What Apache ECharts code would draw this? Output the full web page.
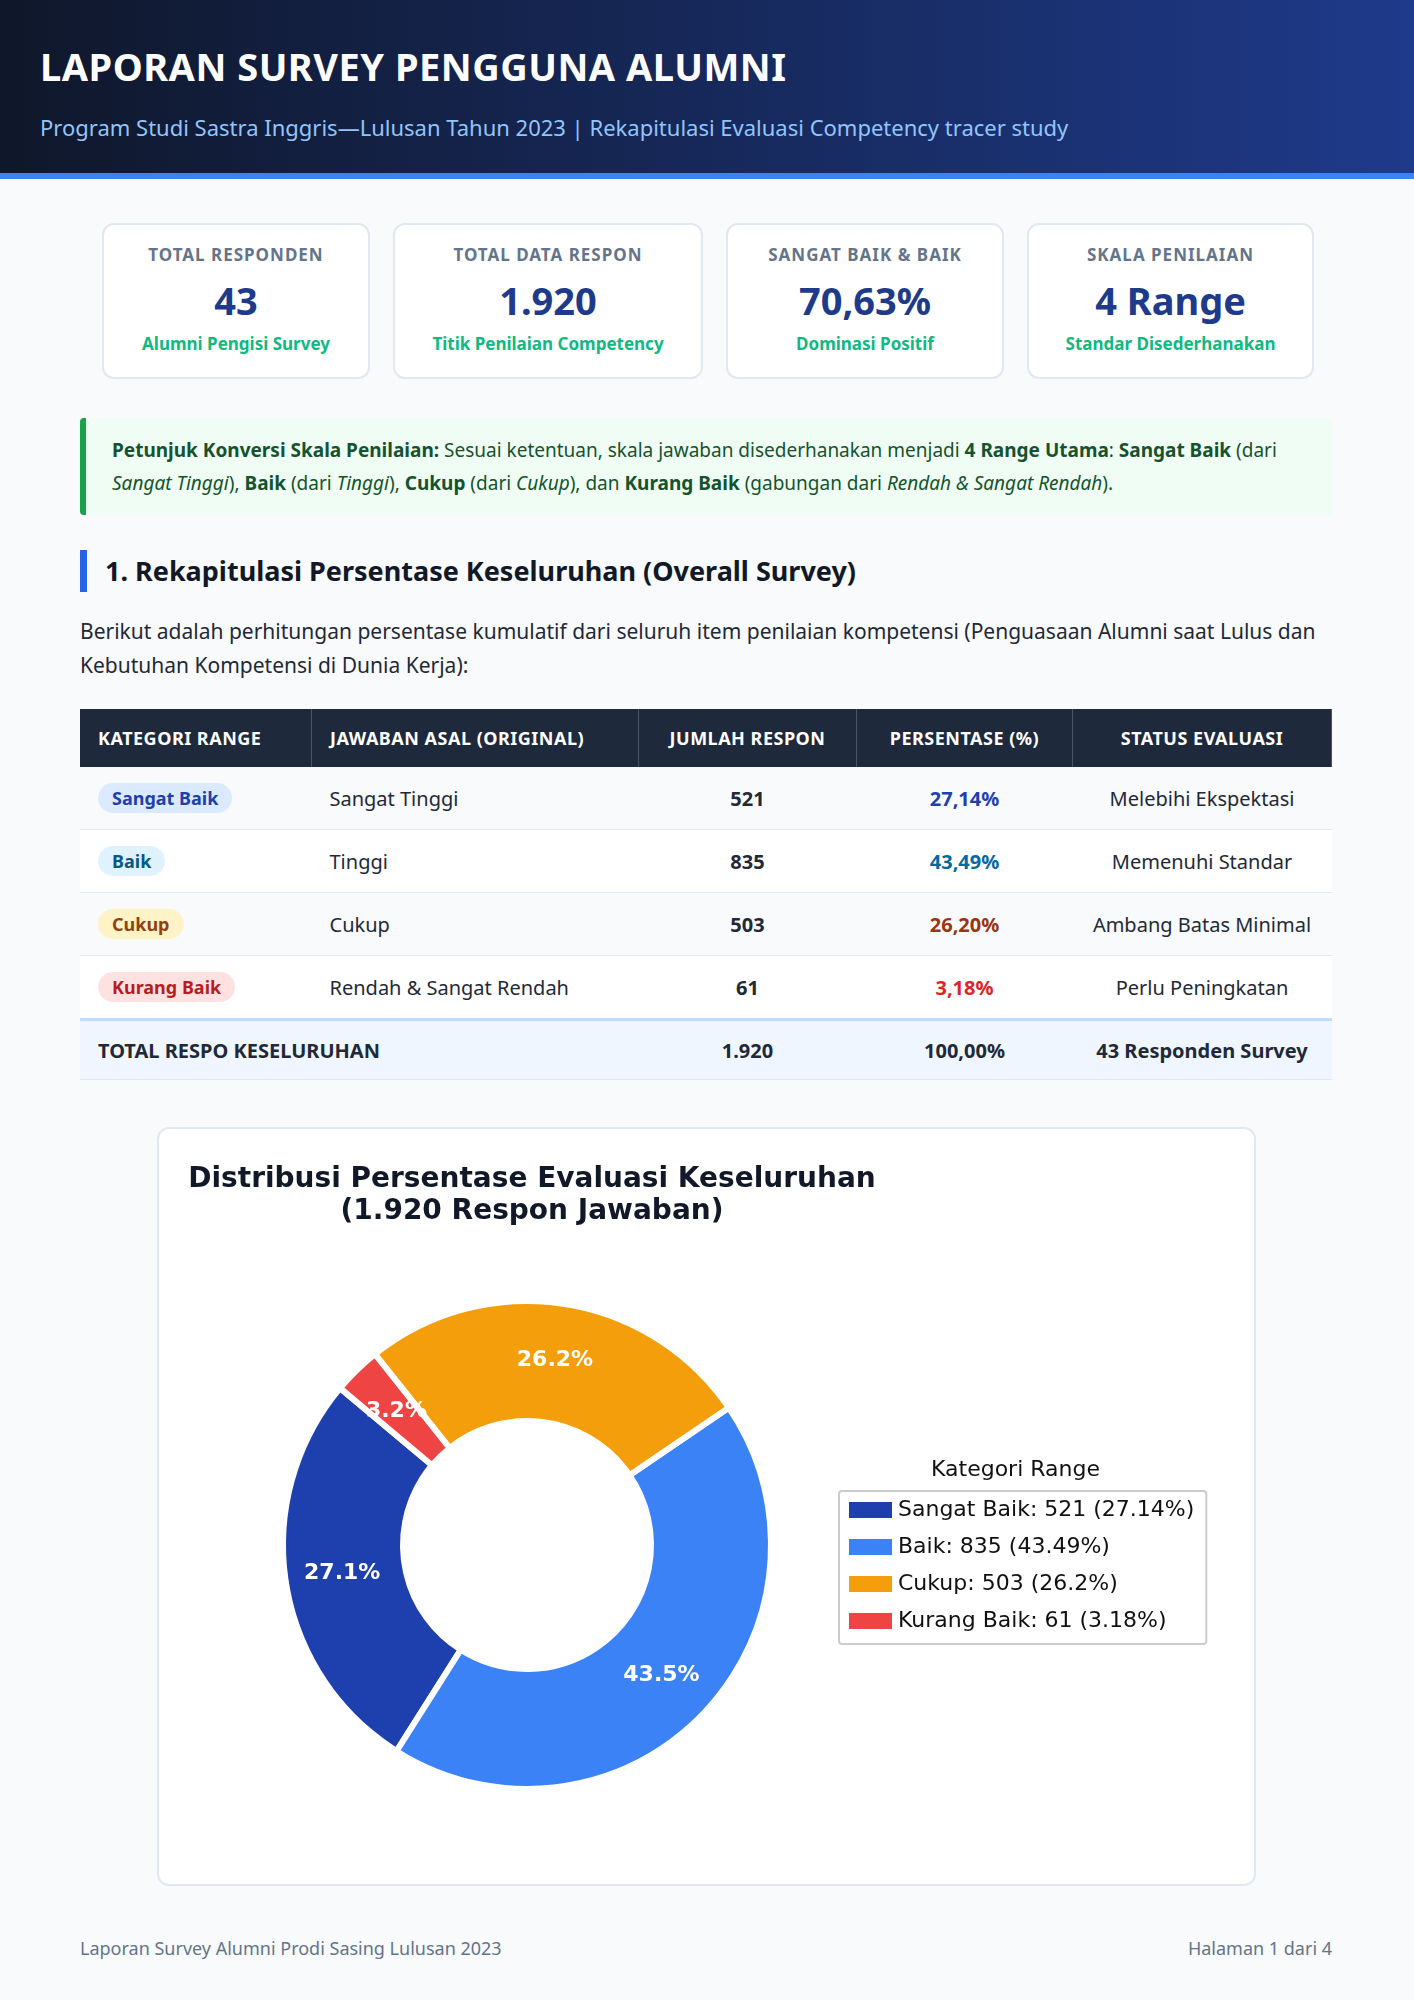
<!DOCTYPE html>
<html><head><meta charset="utf-8">
<script src="https://cdn.jsdelivr.net/npm/echarts@6/dist/echarts.min.js"></script>
<style>
body{margin:0;width:1414px;height:2000px;background:#f8fafc;font-family:"Noto Sans",sans-serif;color:#1f2937;position:relative;overflow:hidden}
.hdr{height:179px;background:linear-gradient(90deg,#0f172a,#1e3a8a);border-bottom:6px solid #3b82f6;box-sizing:border-box;padding:40px 40px 0}
.hdr h1{margin:0;color:#fff;font-size:38px;font-weight:700;letter-spacing:.5px}
.hdr p{margin:20px 0 0;color:#93c5fd;font-size:22px}
.kpis{position:absolute;top:223px;left:102px;display:flex;gap:23px}
.kpi{height:156px;background:#fff;border:2px solid #e2e8f0;border-radius:12px;box-sizing:border-box;text-align:center;padding-top:18px}
.kpi .l{font-size:17px;font-weight:700;color:#64748b;letter-spacing:1px}
.kpi .v{font-size:38px;font-weight:700;color:#1e3a8a;margin:8px 0 6px}
.kpi .s{font-size:17px;font-weight:700;color:#10b981}
.note{position:absolute;top:418px;left:80px;width:1252px;height:97px;box-sizing:border-box;background:#f0fdf4;border-left:6px solid #16a34a;border-radius:4px;padding:16px 26px;font-size:19px;line-height:33px;color:#14532d}
h2{position:absolute;top:550px;left:80px;margin:0;border-left:7px solid #2563eb;padding-left:18px;font-size:27px;line-height:42px;color:#111827}
.para{position:absolute;top:614px;left:80px;width:1260px;font-size:21px;line-height:34px;color:#1f2937;margin:0}
table{position:absolute;top:709px;left:80px;width:1252px;border-collapse:collapse;font-size:20px}
th{background:#1e293b;color:#fff;height:58px;font-size:18px;letter-spacing:.5px;border-right:1px solid #475569;text-align:left;padding:0 18px}
td{height:62px;padding:0 18px;border-bottom:1px solid #e2e8f0;background:#fff}
tr:nth-child(even) td{background:#f8fafc}
.c{text-align:center}
.badge{display:inline-block;padding:3px 14px;border-radius:18px;font-weight:700;font-size:18px}
tr.tot td{background:#eff6ff;font-weight:700;border-top:3px solid #bfdbfe;height:58px}
.card{position:absolute;top:1127px;left:157px;width:1099px;height:759px;background:#fff;border:2px solid #e2e8f0;border-radius:12px;box-sizing:border-box}
#chart{width:1095px;height:755px}
.foot{position:absolute;top:1936px;left:80px;width:1252px;display:flex;justify-content:space-between;font-size:18px;color:#64748b}
</style></head><body>
<div class="hdr"><h1>LAPORAN SURVEY PENGGUNA ALUMNI</h1><p>Program Studi Sastra Inggris—Lulusan Tahun 2023 | Rekapitulasi Evaluasi Competency tracer study</p></div>
<div class="kpis" id="kpis"></div>
<div class="note"><b>Petunjuk Konversi Skala Penilaian:</b> Sesuai ketentuan, skala jawaban disederhanakan menjadi <b>4 Range Utama</b>: <b>Sangat Baik</b> (dari <i>Sangat Tinggi</i>), <b>Baik</b> (dari <i>Tinggi</i>), <b>Cukup</b> (dari <i>Cukup</i>), dan <b>Kurang Baik</b> (gabungan dari <i>Rendah &amp; Sangat Rendah</i>).</div>
<h2>1. Rekapitulasi Persentase Keseluruhan (Overall Survey)</h2>
<p class="para">Berikut adalah perhitungan persentase kumulatif dari seluruh item penilaian kompetensi (Penguasaan Alumni saat Lulus dan Kebutuhan Kompetensi di Dunia Kerja):</p>
<table id="tbl"></table>
<div class="card"><div id="chart"></div></div>
<div class="foot"><span>Laporan Survey Alumni Prodi Sasing Lulusan 2023</span><span>Halaman 1 dari 4</span></div>
<script>
var kpiLabels = ['TOTAL RESPONDEN', 'TOTAL DATA RESPON', 'SANGAT BAIK & BAIK', 'SKALA PENILAIAN'];
var kpiValues = ['43', '1.920', '70,63%', '4 Range'];
var kpiSubs = ['Alumni Pengisi Survey', 'Titik Penilaian Competency', 'Dominasi Positif', 'Standar Disederhanakan'];
var kpiWidths = [268, 310, 278, 287];

var categories = ['Sangat Baik', 'Baik', 'Cukup', 'Kurang Baik'];
var originals = ['Sangat Tinggi', 'Tinggi', 'Cukup', 'Rendah & Sangat Rendah'];
var counts = [521, 835, 503, 61];
var percents = [27.14, 43.49, 26.20, 3.18];
var statuses = ['Melebihi Ekspektasi', 'Memenuhi Standar', 'Ambang Batas Minimal', 'Perlu Peningkatan'];
var colors = ['#1e40af', '#3b82f6', '#f59e0b', '#ef4444'];
var badgeBg = ['#dbeafe', '#e0f2fe', '#fef3c7', '#fee2e2'];
var badgeFg = ['#1e40af', '#075985', '#92400e', '#b91c1c'];
var pctFg = ['#1e40af', '#0369a1', '#9a3412', '#dc2626'];

// KPI cards
var kh = '';
kpiLabels.forEach(function(l, i) {
    kh += '<div class="kpi" style="width:' + kpiWidths[i] + 'px"><div class="l">' + l + '</div><div class="v">' + kpiValues[i] + '</div><div class="s">' + kpiSubs[i] + '</div></div>';
});
document.getElementById('kpis').innerHTML = kh;

// Table
var fmt = function(n) { return n.toFixed(2).replace('.', ','); };
var th = '<tr><th style="width:195px">KATEGORI RANGE</th><th style="width:290px">JAWABAN ASAL (ORIGINAL)</th><th class="c" style="width:181px">JUMLAH RESPON</th><th class="c" style="width:179px">PERSENTASE (%)</th><th class="c">STATUS EVALUASI</th></tr>';
categories.forEach(function(c, i) {
    th += '<tr><td><span class="badge" style="background:' + badgeBg[i] + ';color:' + badgeFg[i] + '">' + c + '</span></td><td>' + originals[i].replace('&', '&amp;') +
        '</td><td class="c"><b>' + counts[i] + '</b></td><td class="c" style="color:' + pctFg[i] + '"><b>' + fmt(percents[i]) + '%</b></td><td class="c">' + statuses[i] + '</td></tr>';
});
th += '<tr class="tot"><td colspan="2">TOTAL RESPO KESELURUHAN</td><td class="c">1.920</td><td class="c">100,00%</td><td class="c">43 Responden Survey</td></tr>';
document.getElementById('tbl').innerHTML = th;

// Chart
var chart = echarts.init(document.getElementById('chart'));
var font = 'DejaVu Sans';
chart.setOption({
    animation: false,
    title: {
        text: 'Distribusi Persentase Evaluasi Keseluruhan\n(1.920 Respon Jawaban)',
        left: 368, top: 30, textAlign: 'center',
        textStyle: { fontFamily: font, fontSize: 28, fontWeight: 'bold', color: '#111827', lineHeight: 32 }
    },
    legend: {
        orient: 'vertical', left: 680, top: 362,
        itemWidth: 45, itemHeight: 18, itemGap: 15,
        padding: [8, 12, 12, 8],
        borderColor: '#cccccc', borderWidth: 2, borderRadius: 3,
        icon: 'rect',
        textStyle: { fontFamily: font, fontSize: 22, color: '#111' },
        formatter: function(name) {
            var i = categories.indexOf(name);
            return name + ': ' + counts[i] + ' (' + parseFloat(percents[i].toFixed(2)) + '%)';
        }
    },
    graphic: [{
        type: 'text', left: 772, top: 330,
        style: { text: 'Kategori Range', fontFamily: font, fontSize: 22, fill: '#111' }
    }],
    series: [{
        type: 'pie',
        center: [368, 416],
        radius: [124, 244],
        startAngle: 140,
        clockwise: false,
        itemStyle: { borderColor: '#fff', borderWidth: 6 },
        label: {
            position: 'inside', color: '#fff', fontFamily: font, fontSize: 22, fontWeight: 'bold',
            formatter: function(p) { return percents[p.dataIndex].toFixed(1) + '%'; }
        },
        labelLine: { show: false },
        data: categories.map(function(c, i) {
            return { name: c, value: counts[i], itemStyle: { color: colors[i] } };
        })
    }]
});
</script>
</body></html>
